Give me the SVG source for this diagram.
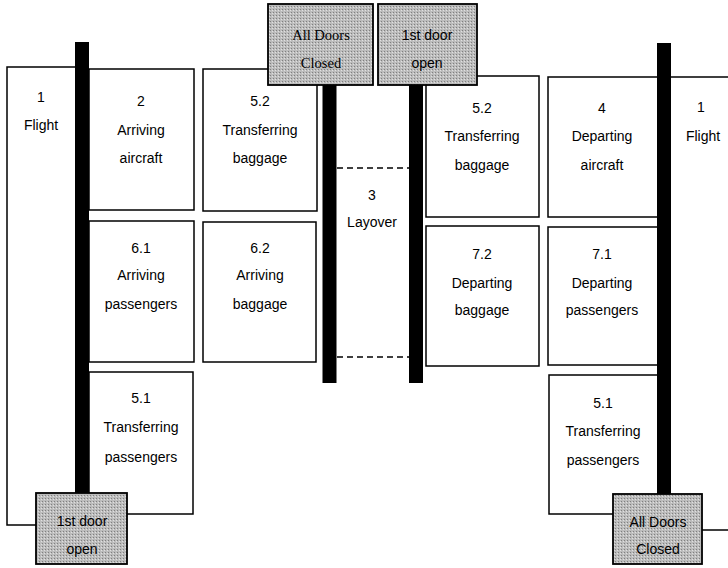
<svg xmlns="http://www.w3.org/2000/svg" width="728" height="568" viewBox="0 0 728 568">
<defs>
<pattern id="stip" width="3" height="3" patternUnits="userSpaceOnUse">
<rect width="3" height="3" fill="#bcbcbc"/>
<rect width="1" height="1" fill="#808080"/>
<rect x="2" y="1" width="1" height="1" fill="#e0e0e0"/>
</pattern>
</defs>
<style>
.box{fill:#fff;stroke:#000;stroke-width:1.5}
.door{fill:url(#stip);stroke:#000;stroke-width:1.8}
.bar{stroke:#000;stroke-width:14;fill:none}
.dash{stroke:#000;stroke-width:1.5;stroke-dasharray:6 4;fill:none}
text{font-family:"Liberation Sans",Arial,sans-serif;font-size:14px;fill:#000;text-anchor:middle}
.serif{font-family:"Liberation Serif","Times New Roman",serif;font-size:14.5px}
</style>
<rect width="728" height="568" fill="#fff"/>

<g id="flight-left">
<rect class="box" x="7" y="67" width="76" height="458"/>
<text x="41" y="102">1</text>
<text x="41" y="130">Flight</text>
</g>
<g id="flight-right">
<rect class="box" x="664" y="77" width="80" height="453"/>
<text x="701" y="112">1</text>
<text x="703" y="141">Flight</text>
</g>

<g id="arriving-aircraft">
<rect class="box" x="89" y="69" width="105" height="141"/>
<text x="141" y="106">2</text>
<text x="141" y="135">Arriving</text>
<text x="141" y="163">aircraft</text>
</g>
<g id="transferring-baggage-left">
<rect class="box" x="203" y="69" width="114" height="142"/>
<text x="260" y="106">5.2</text>
<text x="260" y="135">Transferring</text>
<text x="260" y="163">baggage</text>
</g>
<g id="arriving-passengers">
<rect class="box" x="89" y="221" width="105" height="141"/>
<text x="141" y="253">6.1</text>
<text x="141" y="280">Arriving</text>
<text x="141" y="309">passengers</text>
</g>
<g id="arriving-baggage">
<rect class="box" x="203" y="222" width="113" height="140"/>
<text x="260" y="253">6.2</text>
<text x="260" y="280">Arriving</text>
<text x="260" y="309">baggage</text>
</g>
<g id="transferring-passengers-left">
<rect class="box" x="89" y="372" width="104" height="142"/>
<text x="141" y="403">5.1</text>
<text x="141" y="432">Transferring</text>
<text x="141" y="462">passengers</text>
</g>

<g id="layover">
<text x="372" y="200">3</text>
<text x="372" y="227">Layover</text>
</g>

<g id="transferring-baggage-right">
<rect class="box" x="426" y="76" width="113" height="141"/>
<text x="482" y="113">5.2</text>
<text x="482" y="141">Transferring</text>
<text x="482" y="170">baggage</text>
</g>
<g id="departing-aircraft">
<rect class="box" x="548" y="77" width="112" height="140"/>
<text x="602" y="113">4</text>
<text x="602" y="141">Departing</text>
<text x="602" y="170">aircraft</text>
</g>
<g id="departing-baggage">
<rect class="box" x="426" y="226" width="113" height="140"/>
<text x="482" y="259">7.2</text>
<text x="482" y="288">Departing</text>
<text x="482" y="315">baggage</text>
</g>
<g id="departing-passengers">
<rect class="box" x="548" y="227" width="112" height="138"/>
<text x="602" y="259">7.1</text>
<text x="602" y="288">Departing</text>
<text x="602" y="315">passengers</text>
</g>
<g id="transferring-passengers-right">
<rect class="box" x="549" y="375" width="109" height="139"/>
<text x="603" y="408">5.1</text>
<text x="603" y="436">Transferring</text>
<text x="603" y="465">passengers</text>
</g>

<g id="connectors">
<line class="bar" x1="82" y1="42" x2="82" y2="495"/>
<line class="bar" x1="664" y1="43" x2="664" y2="496"/>
<line class="bar" x1="329.5" y1="84" x2="329.5" y2="383"/>
<line class="bar" x1="416" y1="84" x2="416" y2="383"/>
<line class="dash" x1="337" y1="168" x2="409" y2="168"/>
<line class="dash" x1="337" y1="357" x2="409" y2="357"/>
</g>

<g id="door-all-closed-top">
<rect class="door" x="268" y="4" width="105" height="81"/>
<text class="serif" x="321" y="40">All Doors</text>
<text class="serif" x="321" y="68">Closed</text>
</g>
<g id="door-first-open-top">
<rect class="door" x="378" y="4" width="99" height="81"/>
<text x="427" y="40">1st door</text>
<text x="427" y="68">open</text>
</g>
<g id="door-first-open-bottom">
<rect class="door" x="36" y="493" width="91" height="71"/>
<text x="82" y="526">1st door</text>
<text x="82" y="554">open</text>
</g>
<g id="door-all-closed-bottom">
<rect class="door" x="613" y="494" width="89" height="70"/>
<text x="658" y="527">All Doors</text>
<text x="658" y="554">Closed</text>
</g>
</svg>
